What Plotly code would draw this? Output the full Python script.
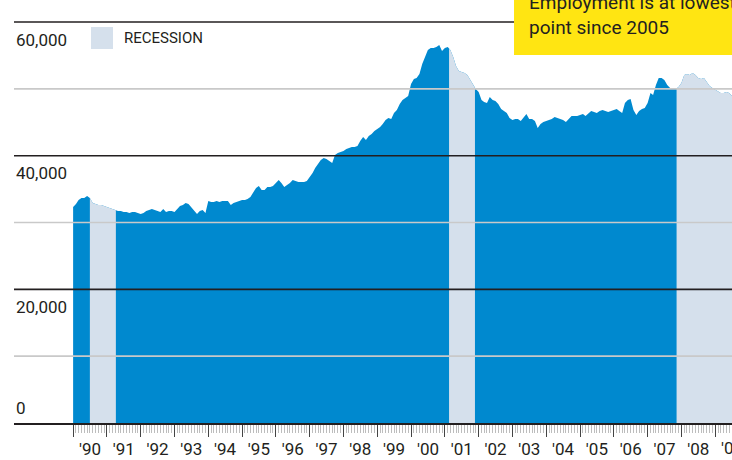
import numpy as np
import pandas as pd
import plotly.graph_objects as go

# ---- data (monthly employment, starting Jan 1990) ----
employment = [
    32320, 32770, 33370, 33670, 33670, 33970, 33670, 32920, 32770, 32620, 32620, 32470,
    32320, 32170, 32020, 31870, 31730, 31730, 31570, 31570, 31420, 31570, 31570, 31420,
    31270, 31420, 31730, 31870, 32020, 31870, 31730, 31570, 32020, 31570, 31730, 31730,
    31570, 32020, 32470, 32620, 32920, 32770, 32320, 31870, 31270, 31730, 31870, 31420,
    33220, 33070, 33070, 33220, 33070, 33220, 33220, 33220, 32620, 32920, 33070, 33220,
    33370, 33370, 33520, 33820, 34570, 35160, 35460, 34870, 34870, 35310, 35310, 35460,
    35910, 36360, 35910, 35310, 35610, 35910, 36360, 36210, 36060, 36060, 36060, 36210,
    36810, 37410, 38160, 38760, 39350, 39650, 39500, 39200, 38910, 40100, 40400, 40550,
    40700, 41000, 41150, 41300, 41300, 41450, 42200, 42800, 42350, 42950, 43240, 43690,
    43990, 44290, 44740, 45340, 45640, 45490, 46390, 46840, 47730, 48330, 48630, 48930,
    50730, 51470, 51620, 52220, 53720, 54920, 55810, 56110, 56110, 56260, 56560, 55660,
    56110, 56260, 55810, 54770, 53420, 52670, 52520, 52370, 52070, 51320, 50580, 49980,
    49530, 48330, 48030, 47880, 48780, 48330, 48180, 47730, 46990, 46690, 46390, 45640,
    45340, 45490, 45490, 45190, 45790, 46240, 45490, 45490, 45190, 44140, 44740, 45040,
    45190, 45340, 45490, 45790, 45640, 45490, 45340, 45040, 45490, 45940, 45940, 45940,
    46090, 46240, 45940, 46390, 46690, 46540, 46390, 46690, 46840, 46690, 46540, 46690,
    46840, 46990, 46690, 46390, 47880, 48330, 48480, 46840, 46090, 46690, 46990, 47130,
    47880, 49380, 49080, 50580, 51620, 51620, 51320, 50580, 50130, 49980, 49980, 50280,
    50880, 52070, 52220, 52070, 52370, 52070, 51620, 51470, 51620, 51020, 50430, 50130,
    49830, 49530, 49380, 49380, 49530, 49380, 48930,
]
start_month = "1990-01-01"
recessions = [("1990-07-01", "1991-04-08"), ("2001-02-15", "2001-11-22"), ("2007-11-10", None)]
year_ticks = list(range(1990, 2010))
year_labels = ["'" + str(y)[2:] for y in year_ticks]
y_label_values = [60000, 40000, 20000, 0]
y_label_texts = ["60,000", "40,000", "20,000", "0"]
callout_text = "Employment is at lowest<br>point since 2005"
legend_text = "RECESSION"

BLUE = "#0089cf"
LIGHT = "#d5e0ec"
DARK = "#231f20"
GRIDL = "#c9c9c9"
YELLOW = "#ffe512"
FONT = "Roboto, sans-serif"

dates = pd.date_range(start_month, periods=len(employment), freq="MS")
vals = np.array(employment, dtype=float)
t_num = dates.astype("int64").to_numpy()
x_range = ["1988-04-02", "2009-07-01"]
x_end = pd.Timestamp(x_range[1])

fig = go.Figure()
fig.add_trace(go.Scatter(x=dates, y=vals, mode="lines", fill="tozeroy",
                         line=dict(width=0, color=BLUE), fillcolor=BLUE,
                         hoverinfo="skip", showlegend=False))

for s, e in recessions:
    s_ts = pd.Timestamp(s)
    e_ts = pd.Timestamp(e) if e else dates[-1]
    inner = [d for d in dates if s_ts < d < e_ts]
    xs = [s_ts] + inner + [e_ts]
    xn = np.array([pd.Timestamp(x).value for x in xs])
    ys = np.interp(xn, t_num, vals)
    fig.add_trace(go.Scatter(x=xs, y=ys, mode="lines", fill="tozeroy",
                             line=dict(width=0, color=LIGHT), fillcolor=LIGHT,
                             hoverinfo="skip", showlegend=False))

# invisible trace that carries the label axis (x2)
year_mid = [pd.Timestamp(f"{y}-07-02") for y in year_ticks]
fig.add_trace(go.Scatter(x=[dates[0]], y=[0], xaxis="x2", mode="markers",
                         marker=dict(size=1, opacity=0), hoverinfo="skip", showlegend=False))

# gridlines drawn over the area
shapes = []
for v in range(10000, 70000, 10000):
    shapes.append(dict(type="line", xref="paper", x0=0, x1=1, yref="y", y0=v, y1=v,
                       line=dict(color=DARK if v % 20000 == 0 else GRIDL, width=1.6),
                       layer="above"))
# legend swatch
shapes.append(dict(type="rect", xref="paper", yref="paper", x0=0.1072, x1=0.1379,
                   y0=0.8842, y1=0.9362, fillcolor=LIGHT, line=dict(width=0), layer="above"))
# yellow callout box
shapes.append(dict(type="rect", xref="paper", yref="paper", x0=0.6964, x1=1.01,
                   y0=0.870, y1=1.2, fillcolor=YELLOW, line=dict(width=0), layer="above"))

annotations = []
for v, t in zip(y_label_values, y_label_texts):
    off = 2250 if v == 0 else -2620
    annotations.append(dict(x=0, xref="paper", xanchor="left", xshift=0, y=v + off, yref="y",
                            yanchor="middle", text=t, showarrow=False,
                            font=dict(family=FONT, size=17, color=DARK)))
annotations.append(dict(x=0.1504, xref="paper", xanchor="left", y=0.910, yref="paper",
                        yanchor="middle", text=legend_text, showarrow=False,
                        font=dict(family=FONT, size=15, color=DARK)))
annotations.append(dict(x=0.7145, xref="paper", xanchor="left", y=0.902, yref="paper",
                        yanchor="bottom", text=callout_text, showarrow=False, align="left",
                        font=dict(family=FONT, size=19, color=DARK)))

# year labels whose mid-year falls past the visible range (partly cut at the edge)
in_vals, in_text = [], []
for ym, lab in zip(year_mid, year_labels):
    if ym < x_end:
        in_vals.append(ym)
        in_text.append(lab)
    else:
        annotations.append(dict(x=1, xref="paper", xanchor="center", y=0, yref="paper",
                                yanchor="top", yshift=-13, text=lab, showarrow=False,
                                font=dict(family=FONT, size=17, color=DARK)))

year_dates = [pd.Timestamp(f"{y}-01-01") for y in year_ticks]
month_dates = pd.date_range(year_dates[0], x_range[1], freq="MS")

fig.update_layout(
    width=732, height=460,
    margin=dict(l=14, r=0, t=0, b=37, autoexpand=False),
    paper_bgcolor="white", plot_bgcolor="white",
    shapes=shapes, annotations=annotations,
    xaxis=dict(range=x_range, type="date",
               tickmode="array", tickvals=year_dates, showticklabels=False,
               ticks="outside", ticklen=12, tickwidth=1.3, tickcolor="#444",
               showline=True, linecolor=DARK, linewidth=1.6,
               showgrid=False, zeroline=False, automargin=False,
               minor=dict(tickmode="array", tickvals=month_dates, ticks="outside",
                          ticklen=8, tickwidth=1, tickcolor="#bdbdbd", showgrid=False)),
    xaxis2=dict(range=x_range, type="date", overlaying="x", anchor="y", side="bottom",
                tickmode="array", tickvals=in_vals, ticktext=in_text,
                ticks="outside", ticklen=11, tickcolor="rgba(0,0,0,0)",
                showline=False, showgrid=False, zeroline=False, automargin=False,
                tickfont=dict(family=FONT, size=17, color=DARK)),
    yaxis=dict(range=[0, 63296], showgrid=False, showticklabels=False,
               zeroline=False, showline=False, ticks="", automargin=False),
)

fig.write_html("out.html", config={"displayModeBar": False},
               post_script="document.body.style.margin='0';document.body.style.padding='0';")
